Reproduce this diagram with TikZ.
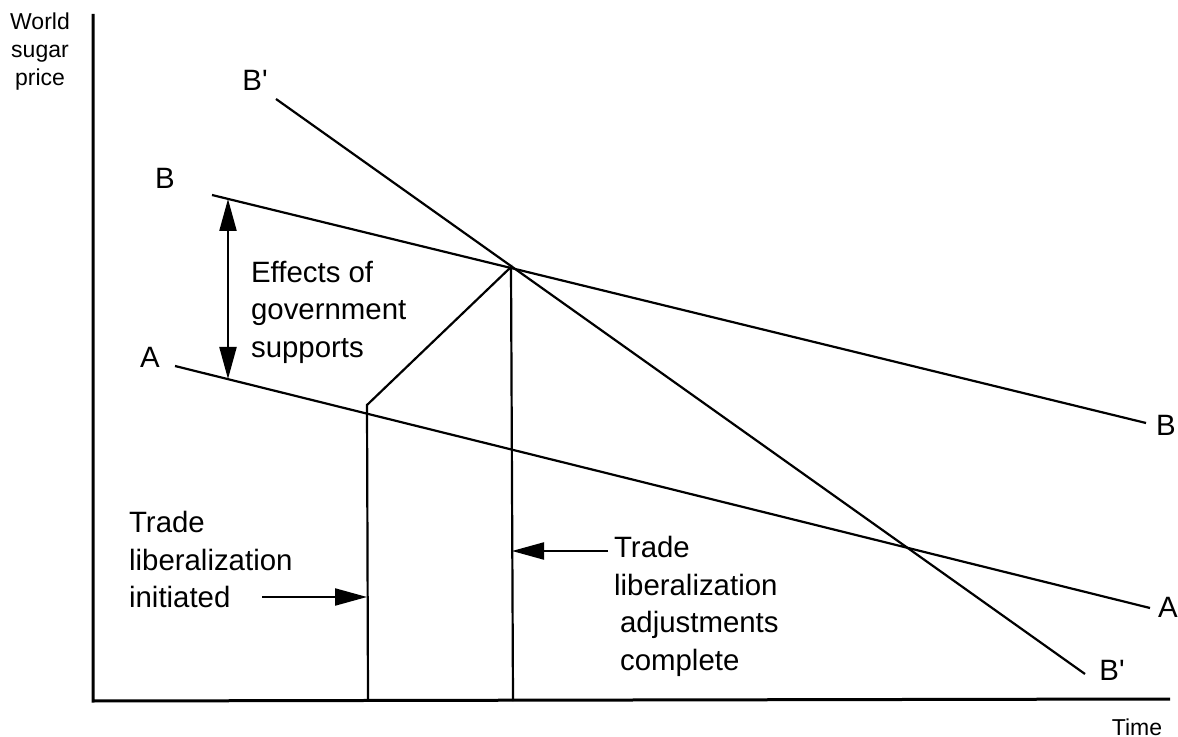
\documentclass[tikz,border=0pt]{standalone}
\usepackage{fontspec}
\setmainfont{Liberation Sans}
\usetikzlibrary{arrows.meta}

\begin{document}
\begin{tikzpicture}[x=0.5pt,y=-0.5pt]
        \tikzstyle{every path}=[line width=1.1pt]
        \tikzstyle{axis}=[line width=1.5pt]
        \tikzstyle{tag}=[font=\fontsize{14.7}{18.5}\selectfont, inner sep=0pt]
        \tikzstyle{note}=[font=\fontsize{14.7}{18.8}\selectfont, align=left, inner sep=0pt, anchor=north west]
        \tikzstyle{small}=[font=\fontsize{11.5}{14}\selectfont, inner sep=0pt]
        \tikzstyle{pointer}=[-{Triangle[length=16pt,width=8.5pt]}]
        \useasboundingbox (0,0) rectangle (1178,737);
        % axes
        \coordinate (ytop) at (93,14);
        \coordinate (origin) at (93,701);
        \coordinate (xend) at (1170,699);
        \draw[axis] (ytop) -- (origin) -- (xend);
        \node[small, align=center](ylabel) at (40,52){World\\sugar\\price};
        \node[small](xlabel) at (1137,727){Time};
        % curves
        \coordinate (a0) at (175,366);
        \coordinate (a1) at (1150,608);
        \coordinate (b0) at (212,195);
        \coordinate (b1) at (1146,423);
        \coordinate (c0) at (276,99);
        \coordinate (c1) at (1085,674);
        \draw (a0) -- (a1);
        \draw (b0) -- (b1);
        \draw (c0) -- (c1);
        \node[tag](alft) at (150,357){A};
        \node[tag](argt) at (1168,607){A};
        \node[tag](blft) at (165,178){B};
        \node[tag](brgt) at (1166,425){B};
        \node[tag](clft) at (255,80){B\textquotesingle};
        \node[tag](crgt) at (1112,670){B\textquotesingle};
        % adjustment path
        \coordinate (peak) at (511,267);
        \coordinate (kink) at (367,405);
        \coordinate (peakfoot) at (513,701);
        \coordinate (kinkfoot) at (368,701);
        \draw (kinkfoot) -- (kink) -- (peak) -- (peakfoot);
        % gap between A and B
        \coordinate (gapb) at (228,199);
        \coordinate (gapa) at (228,379);
        \draw[{Triangle[length=16pt,width=8.5pt]}-{Triangle[length=16pt,width=8.5pt]}] (gapb) -- (gapa);
        \node[note](effects) at (250,260){Effects of\\government\\supports};
        % trade notes
        \node[note](initnote) at (128,510){Trade\\liberalization\\initiated};
        \coordinate (initfrom) at (262,597);
        \coordinate (initto) at (367,597);
        \draw[pointer] (initfrom) -- (initto);
        \node[note](donenote) at (613,535){Trade\\liberalization\\\hspace{3pt}adjustments\\\hspace{3pt}complete};
        \coordinate (donefrom) at (608,551);
        \coordinate (doneto) at (512,551);
        \draw[pointer] (donefrom) -- (doneto);
    \end{tikzpicture}
\end{document}
